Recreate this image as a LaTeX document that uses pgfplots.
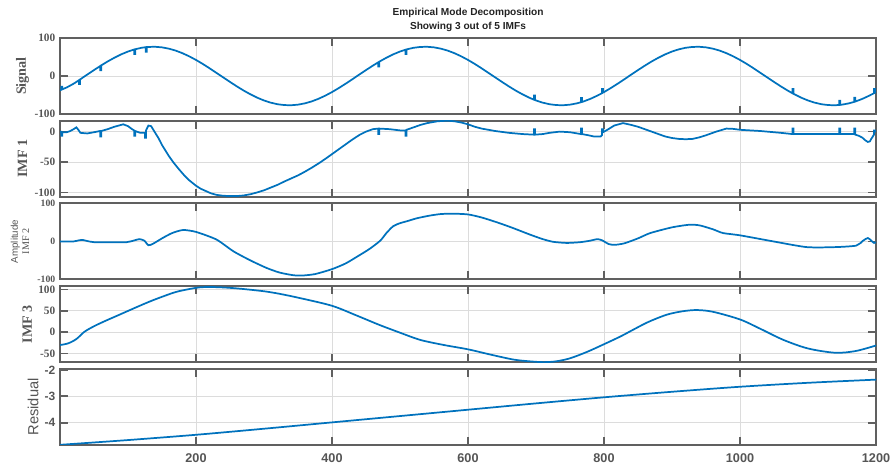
\documentclass[border=0pt]{standalone}
\usepackage{fontspec}
\setmainfont{Liberation Serif}
\setsansfont{Liberation Sans}
\usepackage{pgfplots}
\pgfplotsset{compat=1.18}

\definecolor{linblue}{rgb}{0,0.447,0.741}
\definecolor{framegray}{RGB}{96,96,96}
\definecolor{gridgray}{RGB}{220,220,220}
\definecolor{textgray}{RGB}{85,85,85}
\definecolor{titlegray}{RGB}{35,35,35}

\newcommand{\serifticks}{\fontsize{8.5}{9}\selectfont\bfseries}
\newcommand{\labelfont}{\fontsize{10.6}{12}\selectfont\bfseries}

\pgfplotsset{
  emd/.style={
    anchor=north west,
    scale only axis,
    width=612pt, height=57pt,
    xmin=0, xmax=1200,
    xtick={200,400,600,800,1000,1200},
    xticklabels={},
    grid=major,
    major grid style={gridgray, line width=0.7pt},
    axis line style={framegray, line width=1.5pt},
    major tick style={framegray, line width=1.3pt},
    major tick length=6pt,
    tick align=inside,
    yticklabel style={textgray, font=\serifticks, xshift=0pt},
    xticklabel style={textgray, font=\sffamily\bfseries\fontsize{9.5}{10}\selectfont, yshift=-3pt},
    every axis y label/.style={at={(axis description cs:-0.046,0.5)}, rotate=90, anchor=center, textgray, font=\labelfont},
    every axis plot/.append style={linblue, line width=1.3pt, mark=none},
  }
}

\begin{document}
\begin{tikzpicture}
\path[use as bounding box] (0,0) rectangle (668.25pt,-351.75pt);

\node[titlegray, font=\sffamily\bfseries\fontsize{7.6}{8}\selectfont] at (351pt,-9.9pt) {Empirical Mode Decomposition};
\node[titlegray, font=\sffamily\bfseries\fontsize{7.6}{8}\selectfont] at (351pt,-20.4pt) {Showing 3 out of 5 IMFs};

% Signal
\begin{axis}[emd, at={(45pt,-28.5pt)},
  ymin=-100, ymax=100, ytick={-100,0,100}, yticklabels={-100,0,100},
  ylabel={Signal}]
\addplot[sharp plot] coordinates {
(0,-38)(2,-36)(2,-28)(3.5,-28)(3.5,-35)(10,-30)(20,-20.3)
(28,-10.8)(28,-21)(29.5,-21)(29.5,-9.0)(40,3.6)(50,15.6)
(59,26.1)(59,15)(60.5,15)(60.5,27.8)(70,38.2)(80,48.1)(90,57.0)(100,64.4)
(109,69.7)(109,58)(110.5,58)(110.5,70.4)(120,74.3)
(126,75.9)(126,64)(127.5,64)(127.5,76.1)(130,76.5)(140,76.9)(150,75.4)(160,72.0)
(170,66.9)(180,60.1)(190,51.8)(200,42.3)(210,31.7)(220,20.3)(230,8.4)(240,-3.6)
(250,-15.6)(260,-27.2)(270,-38.2)(280,-48.1)(290,-57.0)(300,-64.4)(310,-70.2)
(320,-74.3)(330,-76.5)(340,-76.9)(350,-75.4)(360,-72.0)(370,-66.9)(380,-60.1)
(390,-51.8)(400,-42.3)(410,-31.7)(420,-20.3)(430,-8.4)(440,3.6)(450,15.6)(460,27.2)
(468,36.0)(468,25)(469.5,25)(469.5,37.2)(470,38.2)(480,48.1)(490,57.0)(500,64.4)
(508,69.1)(508,58)(509.5,58)(509.5,69.9)(510,70.2)(520,74.3)(530,76.5)(540,76.9)
(550,75.4)(560,72.0)(570,66.9)(580,60.1)(590,51.8)(600,42.3)(610,31.7)(620,20.3)
(630,8.4)(640,-3.6)(650,-15.6)(660,-27.2)(670,-38.2)(680,-48.1)(690,-57.0)
(697,-62.3)(697,-51)(698.5,-51)(698.5,-63.0)(700,-64.4)(710,-70.2)(720,-74.3)
(730,-76.5)(740,-76.9)(750,-75.4)(760,-72.0)
(766,-69.1)(766,-58)(767.5,-58)(767.5,-68.3)(770,-66.9)(780,-60.1)(790,-51.8)
(797,-45.3)(797,-34)(798.5,-34)(798.5,-43.8)(800,-42.3)(810,-31.7)(820,-20.3)
(830,-8.4)(840,3.6)(850,15.6)(860,27.2)(870,38.2)(880,48.1)(890,57.0)(900,64.4)
(910,70.2)(920,74.3)(930,76.5)(940,76.9)(950,75.4)(960,72.0)(970,66.9)(980,60.1)
(990,51.8)(1000,42.3)(1010,31.7)(1020,20.3)(1030,8.4)(1040,-3.6)(1050,-15.6)
(1060,-27.2)(1070,-38.2)
(1077,-45.3)(1077,-34)(1078.5,-34)(1078.5,-46.5)(1080,-48.1)(1090,-57.0)
(1100,-64.4)(1110,-70.2)(1120,-74.3)(1130,-76.5)(1140,-76.9)
(1146,-76.2)(1146,-65)(1147.5,-65)(1147.5,-76.0)(1150,-75.4)(1160,-72.0)
(1168,-68.1)(1168,-57)(1169.5,-57)(1169.5,-67.2)(1170,-66.9)(1180,-60.1)(1190,-51.8)
(1197,-45.3)(1197,-34)(1198.5,-34)(1198.5,-43.8)(1200,-42.3)
};
\end{axis}

% IMF 1
\begin{axis}[emd, at={(45pt,-90.5pt)},
  ymin=-107, ymax=18, ytick={-100,-50,0}, yticklabels={-100,-50,0},
  ylabel={IMF 1}]
\addplot[sharp plot] coordinates {
(0,0)(2,0)(2,-7)(3.5,-7)(3.5,-1)(10,-1)(15,1)(20,4)(24,7)(27,3)(30,-2)(40,-3)(50,-1)
(59,1)(59,-8)(60.5,-8)(60.5,1)(70,4)(80,8)(93,12)(100,9)(106,4)
(109,2)(109,-7)(110.5,-7)(110.5,1)(118,-2)
(125,-2)(125,-10)(126.5,-10)(126.5,2)(130,10)(134,9)(140,-2)(145,-11)(150,-22)(155,-31)
(160,-40)(167,-51)(175,-62)(182,-71)(190,-80)(200,-89)(207,-94)(215,-98)(222,-101.5)
(230,-104)(240,-105.5)(250,-106)(260,-106)(270,-105)(280,-103)(290,-100)(300,-96.5)
(310,-92)(320,-87.5)(330,-82)(340,-77)(350,-72)(360,-66)(370,-59.5)(380,-52.5)(390,-45)
(400,-37)(410,-29)(420,-21)(430,-13)(441,-5)(450,0)(460,4)
(468,5)(468,-4)(469.5,-4)(469.5,5)(485,4)(500,2)
(508,2)(508,-7)(509.5,-7)(509.5,3)(520,7)(530,11)(540,14)(555,17)(570,18)(580,17)(590,15)(600,12)
(610,8)(620,5)(630,3)(640,1)(660,-2)(680,-4)
(697,-5)(697,4)(698.5,4)(698.5,-5)(710,-4)(720,-2)(735,0)(750,-1)
(766,-4)(766,5)(767.5,5)(767.5,-4)(777,-6)(785,-8)(795,-8)
(797,-6)(797,4)(798.5,4)(798.5,-1)(805,3)(815,10)(828,14)(840,11)(850,8)(860,4)(870,0)
(880,-4)(890,-8)(900,-10.5)(910,-12)(920,-12.5)(930,-12)(940,-9.5)(950,-6)(965,0)(980,5)
(990,4.5)(1000,3)(1030,1)(1060,-2)
(1077,-4)(1077,5)(1078.5,5)(1078.5,-4)(1100,-4)
(1146,-4)(1146,5)(1147.5,5)(1147.5,-4)
(1168,-4)(1168,5)(1169.5,5)(1169.5,-5)(1175,-7)(1180,-10)(1184,-14)(1188,-17)(1191,-16)(1193,-12)
(1197,-5)(1197,2)(1198.5,2)(1198.5,0)(1200,0)
};
\end{axis}

% IMF 2
\begin{axis}[emd, at={(45pt,-152.55pt)},
  ymin=-100, ymax=100, ytick={-100,0,100}, yticklabels={-100,0,100},
  yticklabel style={font=\fontsize{7.3}{8}\selectfont\bfseries},
  ylabel style={align=center, at={(axis description cs:-0.049,0.5)}},
  ylabel={{\sffamily\mdseries\fontsize{7.3}{7}\selectfont Amplitude}\\[-3.5pt]{\mdseries\fontsize{7.6}{7}\selectfont IMF 2}}]
\addplot[smooth, tension=0.4] coordinates {
(0,0)(20,0)(28,3)(33,4)(40,1)(50,-2)(70,-2)(98,-2)(110,3)(117,6)(124,2)(130,-10)
(137,-6)(150,8)(165,22)(181,30)(200,25)(230,5)(255,-26)(280,-50)(304,-70)(323,-82)
(343,-89)(355,-90)(375,-86)(400,-73)(420,-58)(437,-40)(455,-20)(471,2)(480,22)
(490,40)(500,48)(510,53)(525,61)(544,68)(560,72)(578,73)(600,71)(620,63)(643,50)
(665,36)(691,18)(710,6)(725,-1)(745,-4)(765,-2)(780,2)(790,6)(797,3)(807,-7)
(816,-9)(830,-5)(850,8)(868,22)(900,37)(926,44)(941,42)(960,32)(975,22)(1000,16)
(1049,0)(1098,-15)(1140,-15)(1171,-11)(1181,2)(1188,9)(1193,2)(1197,-4)(1200,-2)
};
\end{axis}

% IMF 3
\begin{axis}[emd, at={(45pt,-214.6pt)},
  ymin=-70, ymax=108, ytick={-50,0,50,100}, yticklabels={-50,0,50,100},
  ylabel style={at={(axis description cs:-0.040,0.5)}},
  ylabel={IMF 3}]
\addplot[smooth, tension=0.5] coordinates {
(0,-30)(12,-26)(24,-16)(35,0)(44,9)(55,18)(70,29)(83,38)(110,57)(132,72)(150,83)(172,95)
(200,104)(216,106)(240,105)(265,102)(300,96)(323,90)(353,80)(400,62)(435,40)
(470,17)(500,-1)(530,-18)(565,-30)(600,-40)(635,-53)(667,-64)(690,-68)(711,-70)
(730,-68)(750,-61)(775,-46)(800,-28)(824,-10)(843,6)(865,24)(892,41)
(915,49)(936,52)(960,48)(1000,30)(1030,8)(1064,-18)(1100,-38)(1140,-48)(1170,-44)
(1200,-31)
};
\end{axis}

% Residual
\begin{axis}[emd, at={(45pt,-276.6pt)},
  ymin=-4.84, ymax=-1.96, ytick={-4,-3,-2}, yticklabels={-4,-3,-2},
  yticklabel style={font=\sffamily\bfseries\fontsize{9}{10}\selectfont},
  xticklabels={200,400,600,800,1000,1200},
  ylabel style={at={(axis description cs:-0.033,0.5)}, font=\sffamily\fontsize{11}{12}\selectfont},
  ylabel={Residual}]
\addplot[smooth] coordinates {
(0,-4.84)(100,-4.66)(200,-4.46)(300,-4.23)(400,-3.99)(500,-3.75)(600,-3.51)
(700,-3.27)(800,-3.04)(900,-2.83)(1000,-2.64)(1100,-2.49)(1200,-2.37)
};
\end{axis}
\end{tikzpicture}
\end{document}
